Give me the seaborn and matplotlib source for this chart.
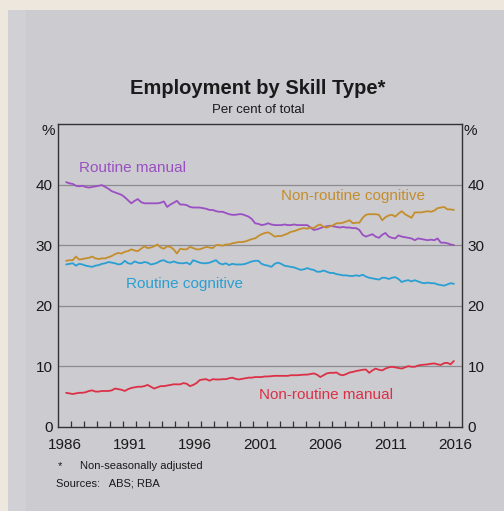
import numpy as np
import pandas as pd
import matplotlib
matplotlib.use("Agg")
import matplotlib.pyplot as plt
from matplotlib.patches import Rectangle
import seaborn as sns

# ---------------- data (quarterly, Aug 1986 - May 2016) ----------------
quarters = pd.period_range("1986Q3", "2016Q2", freq="Q")

routine_manual = [
    40.4, 40.2,
    40.1, 39.8, 39.7, 39.8,   39.6, 39.5, 39.6, 39.7,   39.8, 39.9, 39.6, 39.3,
    38.9, 38.7, 38.5, 38.3,   37.9, 37.4, 36.9, 37.3,   37.6, 37.1, 36.9, 36.9,
    36.9, 36.9, 36.9, 37.0,   37.2, 36.3, 36.7, 37.0,   37.3, 36.7, 36.7, 36.6,
    36.3, 36.2, 36.2, 36.2,   36.1, 36.0, 35.8, 35.8,   35.6, 35.5, 35.5, 35.3,
    35.1, 35.0, 35.0, 35.1,   35.1, 34.9, 34.7, 34.3,   33.6, 33.5, 33.3, 33.4,
    33.6, 33.4, 33.3, 33.3,   33.3, 33.4, 33.3, 33.3,   33.4, 33.3, 33.3, 33.3,
    33.3, 32.9, 32.5, 32.6,   32.8, 33.0, 33.1, 33.2,   33.1, 33.0, 32.9, 33.0,
    32.9, 32.9, 32.8, 32.8,   32.5, 31.7, 31.4, 31.6,   31.8, 31.4, 31.2, 31.7,
    32.0, 31.4, 31.2, 31.1,   31.6, 31.4, 31.3, 31.2,   31.1, 30.8, 31.1, 31.0,
    30.9, 30.8, 30.9, 30.8,   31.1, 30.4, 30.4, 30.3,
    30.1, 30.0,
]

non_routine_cognitive = [
    27.4, 27.5,
    27.5, 28.1, 27.6, 27.7,   27.8, 27.9, 28.1, 27.8,   27.7, 27.8, 27.8, 28.0,
    28.2, 28.5, 28.7, 28.6,   28.9, 29.0, 29.3, 29.1,   29.0, 29.4, 29.8, 29.5,
    29.6, 29.8, 30.1, 29.6,   29.4, 29.8, 29.7, 29.3,   28.6, 29.4, 29.3, 29.3,
    29.7, 29.5, 29.3, 29.3,   29.5, 29.7, 29.6, 29.5,   30.0, 30.0, 29.9, 30.1,
    30.1, 30.3, 30.4, 30.5,   30.5, 30.6, 30.8, 31.0,   31.1, 31.5, 31.8, 32.0,
    32.1, 31.8, 31.4, 31.5,   31.5, 31.7, 31.9, 32.2,   32.3, 32.5, 32.7, 32.8,
    32.7, 32.9, 32.8, 33.2,   33.4, 33.0, 32.9, 33.1,   33.3, 33.6, 33.6, 33.7,
    33.9, 34.1, 33.6, 33.7,   33.7, 34.5, 35.0, 35.1,   35.1, 35.1, 35.0, 34.1,
    34.6, 34.9, 35.0, 34.7,   35.2, 35.6, 35.1, 34.8,   34.5, 35.4, 35.4, 35.4,
    35.5, 35.6, 35.5, 35.7,   36.1, 36.2, 36.3, 35.9,
    35.9, 35.8,
]

routine_cognitive = [
    26.8, 26.9,
    27.0, 26.6, 26.9, 26.8,   26.6, 26.5, 26.4, 26.6,   26.7, 26.9, 27.0, 27.2,
    27.1, 27.0, 26.8, 26.9,   27.4, 27.0, 26.9, 27.3,   27.1, 27.0, 27.2, 27.1,
    26.8, 26.9, 27.1, 27.4,   27.5, 27.2, 27.1, 27.3,   27.1, 27.0, 27.0, 27.1,
    26.8, 27.5, 27.3, 27.1,   27.0, 27.0, 27.1, 27.3,   27.5, 27.0, 26.8, 27.0,
    26.7, 26.9, 26.8, 26.8,   26.8, 26.9, 27.1, 27.3,   27.4, 27.4, 26.9, 26.7,
    26.6, 26.4, 26.9, 27.1,   26.9, 26.6, 26.5, 26.4,   26.3, 26.1, 25.9, 26.0,
    26.2, 26.0, 25.9, 25.6,   25.6, 25.8, 25.6, 25.4,   25.4, 25.2, 25.1, 25.0,
    25.0, 24.9, 24.9, 25.0,   24.9, 25.1, 24.8, 24.6,   24.5, 24.4, 24.3, 24.6,
    24.6, 24.4, 24.6, 24.7,   24.4, 23.9, 24.1, 24.2,   24.0, 24.2, 24.0, 23.8,
    23.7, 23.8, 23.7, 23.7,   23.5, 23.4, 23.3, 23.5,
    23.7, 23.6,
]

non_routine_manual = [
    5.6, 5.5,
    5.4, 5.5, 5.6, 5.6,       5.7, 5.9, 6.0, 5.8,       5.8, 5.9, 5.9, 5.9,
    6.0, 6.3, 6.2, 6.1,       5.9, 6.2, 6.4, 6.5,       6.6, 6.6, 6.7, 6.9,
    6.6, 6.3, 6.5, 6.7,       6.7, 6.8, 6.9, 7.0,       7.0, 7.0, 7.2, 7.1,
    6.7, 6.9, 7.2, 7.7,       7.8, 7.85, 7.6, 7.85,     7.8, 7.8, 7.85, 7.85,
    8.0, 8.1, 7.9, 7.8,       7.9, 8.0, 8.1, 8.1,       8.2, 8.2, 8.2, 8.3,
    8.3, 8.35, 8.4, 8.4,      8.4, 8.4, 8.4, 8.5,       8.5, 8.5, 8.55, 8.6,
    8.6, 8.7, 8.8, 8.6,       8.2, 8.5, 8.8, 8.9,       8.9, 8.95, 8.6, 8.5,
    8.7, 8.95, 9.05, 9.2,     9.3, 9.4, 9.45, 8.9,      9.3, 9.6, 9.4, 9.3,
    9.6, 9.8, 9.9, 9.8,       9.7, 9.6, 9.8, 10.0,      9.9, 9.9, 10.1, 10.2,
    10.25, 10.3, 10.4, 10.45, 10.3, 10.2, 10.5, 10.55,
    10.3, 10.85,
]

series_names = ["Routine manual", "Non-routine cognitive",
                "Routine cognitive", "Non-routine manual"]
series_colors = ["#9a50c2", "#c58e2c", "#2a9fd3", "#dc3046"]
label_pos = [(1991.68, 42.7), (2008.6, 38.1), (1995.67, 23.55), (2006.57, 5.2)]

year_ticks = [1986, 1991, 1996, 2001, 2006, 2011, 2016]
y_ticks = [0, 10, 20, 30, 40]

# ---------------- build table ----------------
dec_year = quarters.year + (quarters.quarter - 1) / 4 + 0.125
frames = []
for name, vals in zip(series_names,
                      [routine_manual, non_routine_cognitive,
                       routine_cognitive, non_routine_manual]):
    frames.append(pd.DataFrame({"date": dec_year, "value": vals, "series": name}))
df = pd.concat(frames, ignore_index=True)

# ---------------- styling ----------------
sns.set_theme(style="white")
plt.rcParams["font.family"] = ["Liberation Sans", "DejaVu Sans"]

bg = "#cbcbd0"
fig = plt.figure(figsize=(5.04, 5.11), dpi=100, facecolor=bg)
# photo edges (beige desk, slide edge)
fig.patches.append(Rectangle((0, 1 - 10 / 511), 1, 10 / 511, transform=fig.transFigure,
                             facecolor="#ede7dd", edgecolor="none", zorder=-10))
fig.patches.append(Rectangle((0, 0), 8 / 504, 1, transform=fig.transFigure,
                             facecolor="#ede7dd", edgecolor="none", zorder=-10))
fig.patches.append(Rectangle((8 / 504, 0), 18 / 504, 1 - 10 / 511, transform=fig.transFigure,
                             facecolor="#d0d0d5", edgecolor="none", zorder=-9))

ax = fig.add_axes([58 / 504, 1 - 426.7 / 511, (462 - 58) / 504, (426.7 - 124) / 511])
ax.set_facecolor(bg)

sns.lineplot(data=df, x="date", y="value", hue="series",
             palette=dict(zip(series_names, series_colors)),
             hue_order=series_names, linewidth=1.3, legend=False, ax=ax,
             zorder=3)

ax.set_xlim(1986, 2017)
ax.set_ylim(0, 50)
ax.set_xlabel("")
ax.set_ylabel("")

# grid
for yv in y_ticks[1:]:
    ax.axhline(yv, color="#8c8c90", linewidth=0.9, zorder=1)

# x ticks: year boundaries as inward ticks, labels centred in the year
ax.set_xticks([y + 0.5 for y in year_ticks])
ax.set_xticklabels([str(y) for y in year_ticks])
ax.set_xticks(list(range(1987, 2017)), minor=True)
ax.tick_params(axis="x", which="major", length=0, pad=8, labelsize=11, colors="#1a1a1a")
ax.tick_params(axis="x", which="minor", direction="in", length=4.5, width=0.9,
               color="#333333", bottom=True)

ax.set_yticks(y_ticks)
ax.set_yticklabels([str(v) for v in y_ticks])
ax.tick_params(axis="y", which="both", length=0, pad=4, labelsize=11,
               colors="#1a1a1a", left=True, right=True, labelleft=True, labelright=True)

for sp in ax.spines.values():
    sp.set_visible(True)
    sp.set_color("#333333")
    sp.set_linewidth(1.0)

# series labels
for name, col, (lx, ly) in zip(series_names, series_colors, label_pos):
    ax.text(lx, ly, name, color=col, fontsize=11, ha="center", va="center", zorder=4)

# % unit labels
fig.text(48 / 504, 1 - 131 / 511, "%", fontsize=11, ha="center", va="center", color="#1a1a1a")
fig.text(470 / 504, 1 - 131 / 511, "%", fontsize=11, ha="center", va="center", color="#1a1a1a")

# titles
fig.text(258 / 504, 1 - 88 / 511, "Employment by Skill Type*", fontsize=14.5,
         fontweight="bold", ha="center", va="center", color="#1a1a1a")
fig.text(258 / 504, 1 - 110 / 511, "Per cent of total", fontsize=9.5,
         ha="center", va="center", color="#1a1a1a")

# footnotes
fig.text(58 / 504, 1 - 466 / 511, "*", fontsize=8, ha="left", va="center", color="#1a1a1a")
fig.text(80 / 504, 1 - 466 / 511, "Non-seasonally adjusted", fontsize=8,
         ha="left", va="center", color="#1a1a1a")
fig.text(56 / 504, 1 - 484 / 511, "Sources:   ABS; RBA", fontsize=8,
         ha="left", va="center", color="#1a1a1a")

fig.savefig("out.png", dpi=100, facecolor=fig.get_facecolor())
